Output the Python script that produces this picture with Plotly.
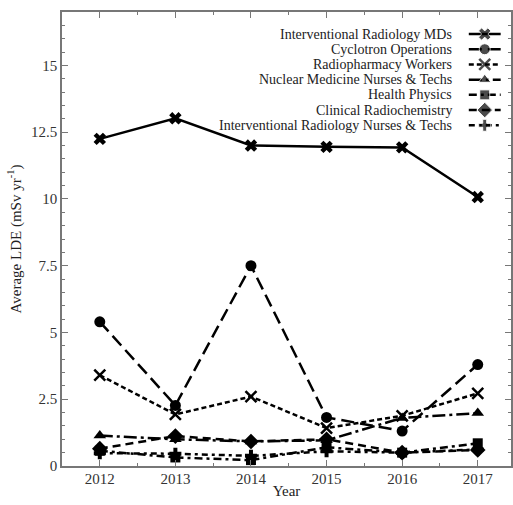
import plotly.graph_objects as go

years = [2012, 2013, 2014, 2015, 2016, 2017]

ir_mds = [12.25, 13.02, 12.0, 11.95, 11.93, 10.07]
cyclotron = [5.4, 2.27, 7.5, 1.82, 1.31, 3.8]
radiopharmacy = [3.4, 1.93, 2.6, 1.42, 1.88, 2.72]
nm_nurses = [1.14, 1.0, 0.92, 0.96, 1.8, 1.98]
health_physics = [0.57, 0.32, 0.22, 0.7, 0.5, 0.85]
clinical_radiochem = [0.65, 1.12, 0.92, 1.0, 0.5, 0.6]
ir_nurses = [0.48, 0.46, 0.38, 0.55, 0.5, 0.62]

series_names = [
    "Interventional Radiology MDs",
    "Cyclotron Operations",
    "Radiopharmacy Workers",
    "Nuclear Medicine Nurses & Techs",
    "Health Physics",
    "Clinical Radiochemistry",
    "Interventional Radiology Nurses & Techs",
]
series_values = [ir_mds, cyclotron, radiopharmacy, nm_nurses,
                 health_physics, clinical_radiochem, ir_nurses]

styles = [
    dict(dash="solid", symbol="x", size=11),
    dict(dash="13px,6px", symbol="circle", size=11),
    dict(dash="5px,3px", symbol="x-thin-open", size=11),
    dict(dash="13px,4px,3px,4px", symbol="triangle-up", size=11),
    dict(dash="8px,4px,3px,4px", symbol="square", size=10),
    dict(dash="8px,5px", symbol="diamond", size=12),
    dict(dash="6px,4px,3px,4px", symbol="cross", size=10),
]

SERIF = "Liberation Serif, Times New Roman, Times, serif"


def make_marker(st, size=None):
    m = dict(symbol=st["symbol"], size=st["size"] if size is None else size, color="black")
    if st["symbol"] == "x-thin-open":
        m["line"] = dict(width=2.5, color="black")
    return m


fig = go.Figure()
for name, vals, st in zip(series_names, series_values, styles):
    fig.add_trace(go.Scatter(
        x=years, y=vals, name=name, mode="lines+markers",
        line=dict(color="black", width=2.5, dash=st["dash"]),
        marker=make_marker(st), showlegend=False,
    ))

# Custom legend (text right-aligned, key on the right), laid out in paper units
leg_top = 0.9515
leg_step = 0.0335
key_x0, key_x1 = 0.906, 0.977
for i, (name, st) in enumerate(zip(series_names, styles)):
    yy = leg_top - i * leg_step
    fig.add_annotation(
        x=0.872, y=yy, xref="paper", yref="paper", text=name, showarrow=False,
        xanchor="right", yanchor="middle",
        font=dict(family=SERIF, size=14, color="#222"),
    )
    fig.add_trace(go.Scatter(
        x=[key_x0, (key_x0 + key_x1) / 2, key_x1], y=[yy, yy, yy],
        xaxis="x2", yaxis="y2", mode="lines+markers",
        line=dict(color="black", width=2.5, dash=st["dash"]),
        marker=dict(make_marker(st), size=[0, st["size"], 0]),
        showlegend=False, hoverinfo="skip",
    ))

axis_common = dict(
    showline=True, linecolor="#777", linewidth=1.5, mirror="allticks",
    ticks="inside", tickcolor="#777", ticklen=6, tickwidth=1,
    showgrid=False, zeroline=False, automargin=False,
    tickfont=dict(family=SERIF, size=15, color="#333"),
)

fig.update_layout(
    width=513, height=505,
    margin=dict(l=62, r=2, t=12, b=39),
    plot_bgcolor="white", paper_bgcolor="white",
    font=dict(family=SERIF, size=15, color="#222"),
    showlegend=False,
    xaxis=dict(
        range=[2011.5, 2017.44], tickvals=years, ticktext=[str(y) for y in years],
        minor=dict(ticks="inside", dtick=0.5, tick0=2011.5, ticklen=3, tickcolor="#777"),
        title=dict(text="Year", standoff=0, font=dict(family=SERIF, size=15)),
        ticklabelstandoff=-2,
        **axis_common,
    ),
    yaxis=dict(
        range=[0, 17], tickvals=[0, 2.5, 5, 7.5, 10, 12.5, 15],
        ticktext=["0", "2.5", "5", "7.5", "10", "12.5", "15"],
        minor=dict(ticks="inside", dtick=0.5, tick0=0, ticklen=3, tickcolor="#777"),
        title=dict(text="Average LDE (mSv yr<sup>-1</sup>)", standoff=6,
                   font=dict(family=SERIF, size=15)),
        **axis_common,
    ),
    xaxis2=dict(range=[0, 1], overlaying="x", visible=False, fixedrange=True),
    yaxis2=dict(range=[0, 1], overlaying="y", visible=False, fixedrange=True),
)

fig.write_html("out.html", config={"displayModeBar": False},
               post_script="document.body.style.margin='0';")
